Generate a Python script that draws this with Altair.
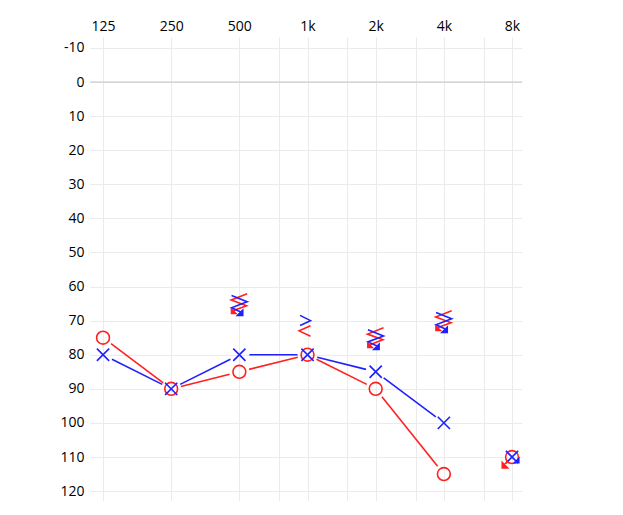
import altair as alt
import pandas as pd
import numpy as np

# ---- data ----
freqs = [125, 250, 500, 1000, 2000, 4000, 8000]
right_air = [75, 90, 85, 80, 90, 115, 110]
left_air = [80, 90, 80, 80, 85, 100, 110]
air_no_response = [False, False, False, False, False, False, True]

bone_freqs = [500, 1000, 2000, 4000]
right_bone = [65, 73, 75, 70]
left_bone = [65, 70, 75, 70]
bone_no_response = [True, False, True, True]

tick_freqs = [125, 250, 500, 750, 1000, 1500, 2000, 3000, 4000, 6000, 8000]
label_freqs = [125, 250, 500, 1000, 2000, 4000, 8000]
db_ticks = list(range(-10, 121, 10))

# ---- styles ----
RED = "#ff2020"
BLUE = "#2020ff"
W, H = 432, 464
X_DOMAIN = [109.5, 8854]
Y_DOMAIN = [-13.2, 122.9]
FONT = "Open Sans"
FONT_SIZE = 14

SHAPES = {
    "O": ("circle", 165),
    "X": ("M-1,-1L1,1M1,-1L-1,1", 150),
    "bone_r": ("M0.25,-0.42L-0.7,0L0.25,0.44", 576),
    "bone_l": ("M-0.62,-0.44L0.25,0L-0.62,0.4", 576),
    "bone_r_nr": ("M0.65,-0.83L-0.68,-0.3L0.6,0.17L-0.55,0.6", 576),
    "bone_l_nr": ("M-0.65,-0.67L0.65,-0.15L-0.65,0.35L0.12,0.7", 576),
}
ARROWS = {
    "air_r": ("M-0.33,0.33L-0.75,0.75M-0.83,0.92L-0.83,0.42L-0.33,0.92Z", 576),
    "air_l": ("M0.58,0.5L0.58,0.08L0.17,0.5Z", 576),
    "bone_r": ("M-0.67,0.83L-0.67,0.42L-0.25,0.83Z", 576),
    "bone_l": ("M0.3,1L0.3,0.5L-0.2,1Z", 576),
}

# ---- symbol tables ----
sym_rows, arrow_rows = [], []
for f, v, nr in zip(freqs, right_air, air_no_response):
    s, z = SHAPES["O"]
    sym_rows.append(dict(freq=f, db=v, shape=s, size=z, color=RED))
    if nr:
        s, z = ARROWS["air_r"]
        arrow_rows.append(dict(freq=f, db=v, shape=s, size=z, color=RED))
for f, v, nr in zip(freqs, left_air, air_no_response):
    s, z = SHAPES["X"]
    sym_rows.append(dict(freq=f, db=v, shape=s, size=z, color=BLUE))
    if nr:
        s, z = ARROWS["air_l"]
        arrow_rows.append(dict(freq=f, db=v, shape=s, size=z, color=BLUE))
for f, v, nr in zip(bone_freqs, right_bone, bone_no_response):
    s, z = SHAPES["bone_r_nr" if nr else "bone_r"]
    sym_rows.append(dict(freq=f, db=v, shape=s, size=z, color=RED))
    if nr:
        s, z = ARROWS["bone_r"]
        arrow_rows.append(dict(freq=f, db=v, shape=s, size=z, color=RED))
for f, v, nr in zip(bone_freqs, left_bone, bone_no_response):
    s, z = SHAPES["bone_l_nr" if nr else "bone_l"]
    sym_rows.append(dict(freq=f, db=v, shape=s, size=z, color=BLUE))
    if nr:
        s, z = ARROWS["bone_l"]
        arrow_rows.append(dict(freq=f, db=v, shape=s, size=z, color=BLUE))

sym_df = pd.DataFrame(sym_rows)
arrow_df = pd.DataFrame(arrow_rows)

# ---- connecting line segments, shortened so they stop short of symbols ----
kx = W / (np.log2(X_DOMAIN[1]) - np.log2(X_DOMAIN[0]))
ky = H / (Y_DOMAIN[1] - Y_DOMAIN[0])
GAP = 10.0
seg_rows = []
for vals, color in [(right_air, RED), (left_air, BLUE)]:
    pts = [(f, v) for f, v, nr in zip(freqs, vals, air_no_response) if not nr]
    for (f1, v1), (f2, v2) in zip(pts[:-1], pts[1:]):
        l1, l2 = np.log2(f1), np.log2(f2)
        L = np.hypot((l2 - l1) * kx, (v2 - v1) * ky)
        t = GAP / L
        seg_rows.append(dict(
            freq=2 ** (l1 + t * (l2 - l1)), db=v1 + t * (v2 - v1),
            freq2=2 ** (l2 - t * (l2 - l1)), db2=v2 - t * (v2 - v1),
            color=color))
seg_df = pd.DataFrame(seg_rows)

# ---- encodings ----
label_expr = ("indexof([" + ",".join(str(v) for v in label_freqs) + "], datum.value) >= 0 ? "
              "(datum.value >= 1000 ? (datum.value / 1000) + 'k' : '' + datum.value) : ''")

x_enc = alt.X("freq:Q",
              scale=alt.Scale(type="log", base=2, domain=X_DOMAIN, nice=False),
              axis=alt.Axis(orient="top", values=tick_freqs, labelExpr=label_expr,
                            domain=False, ticks=False, grid=True, gridColor="#ebebeb",
                            labelFont=FONT, labelFontSize=FONT_SIZE, labelColor="#000000",
                            labelPadding=4, labelFlush=False, labelOverlap=False,
                            title=None, minExtent=29, maxExtent=29))
y_enc = alt.Y("db:Q",
              scale=alt.Scale(domain=Y_DOMAIN, reverse=True, nice=False, zero=False),
              axis=alt.Axis(orient="left", values=db_ticks, domain=False, ticks=False,
                            labelExpr="'' + datum.value",
                            grid=True, gridColor="#ebebeb",
                            labelFont=FONT, labelFontSize=FONT_SIZE, labelColor="#000000",
                            labelPadding=6, title=None, minExtent=82, maxExtent=82))

zero_line = alt.Chart(pd.DataFrame({"db": [0]})).mark_rule(
    color="#c4c4c4", strokeWidth=1).encode(y=y_enc)

lines = alt.Chart(seg_df).mark_rule(strokeWidth=1.6).encode(
    x=x_enc, y=y_enc, x2="freq2:Q", y2="db2:Q",
    color=alt.Color("color:N", scale=None))

symbols = alt.Chart(sym_df).mark_point(filled=False, strokeWidth=1.6, opacity=1).encode(
    x=x_enc, y=y_enc,
    shape=alt.Shape("shape:N", scale=None),
    size=alt.Size("size:Q", scale=None),
    color=alt.Color("color:N", scale=None))

arrows = alt.Chart(arrow_df).mark_point(filled=True, strokeWidth=1.2, opacity=1).encode(
    x=x_enc, y=y_enc,
    shape=alt.Shape("shape:N", scale=None),
    size=alt.Size("size:Q", scale=None),
    color=alt.Color("color:N", scale=None),
    stroke=alt.Stroke("color:N", scale=None))

chart = alt.layer(zero_line, lines, symbols, arrows).properties(
    width=W, height=H, padding=0, background="white"
).configure_view(stroke=None)

chart.save("out.html", embed_options={"renderer": "svg", "actions": False})
